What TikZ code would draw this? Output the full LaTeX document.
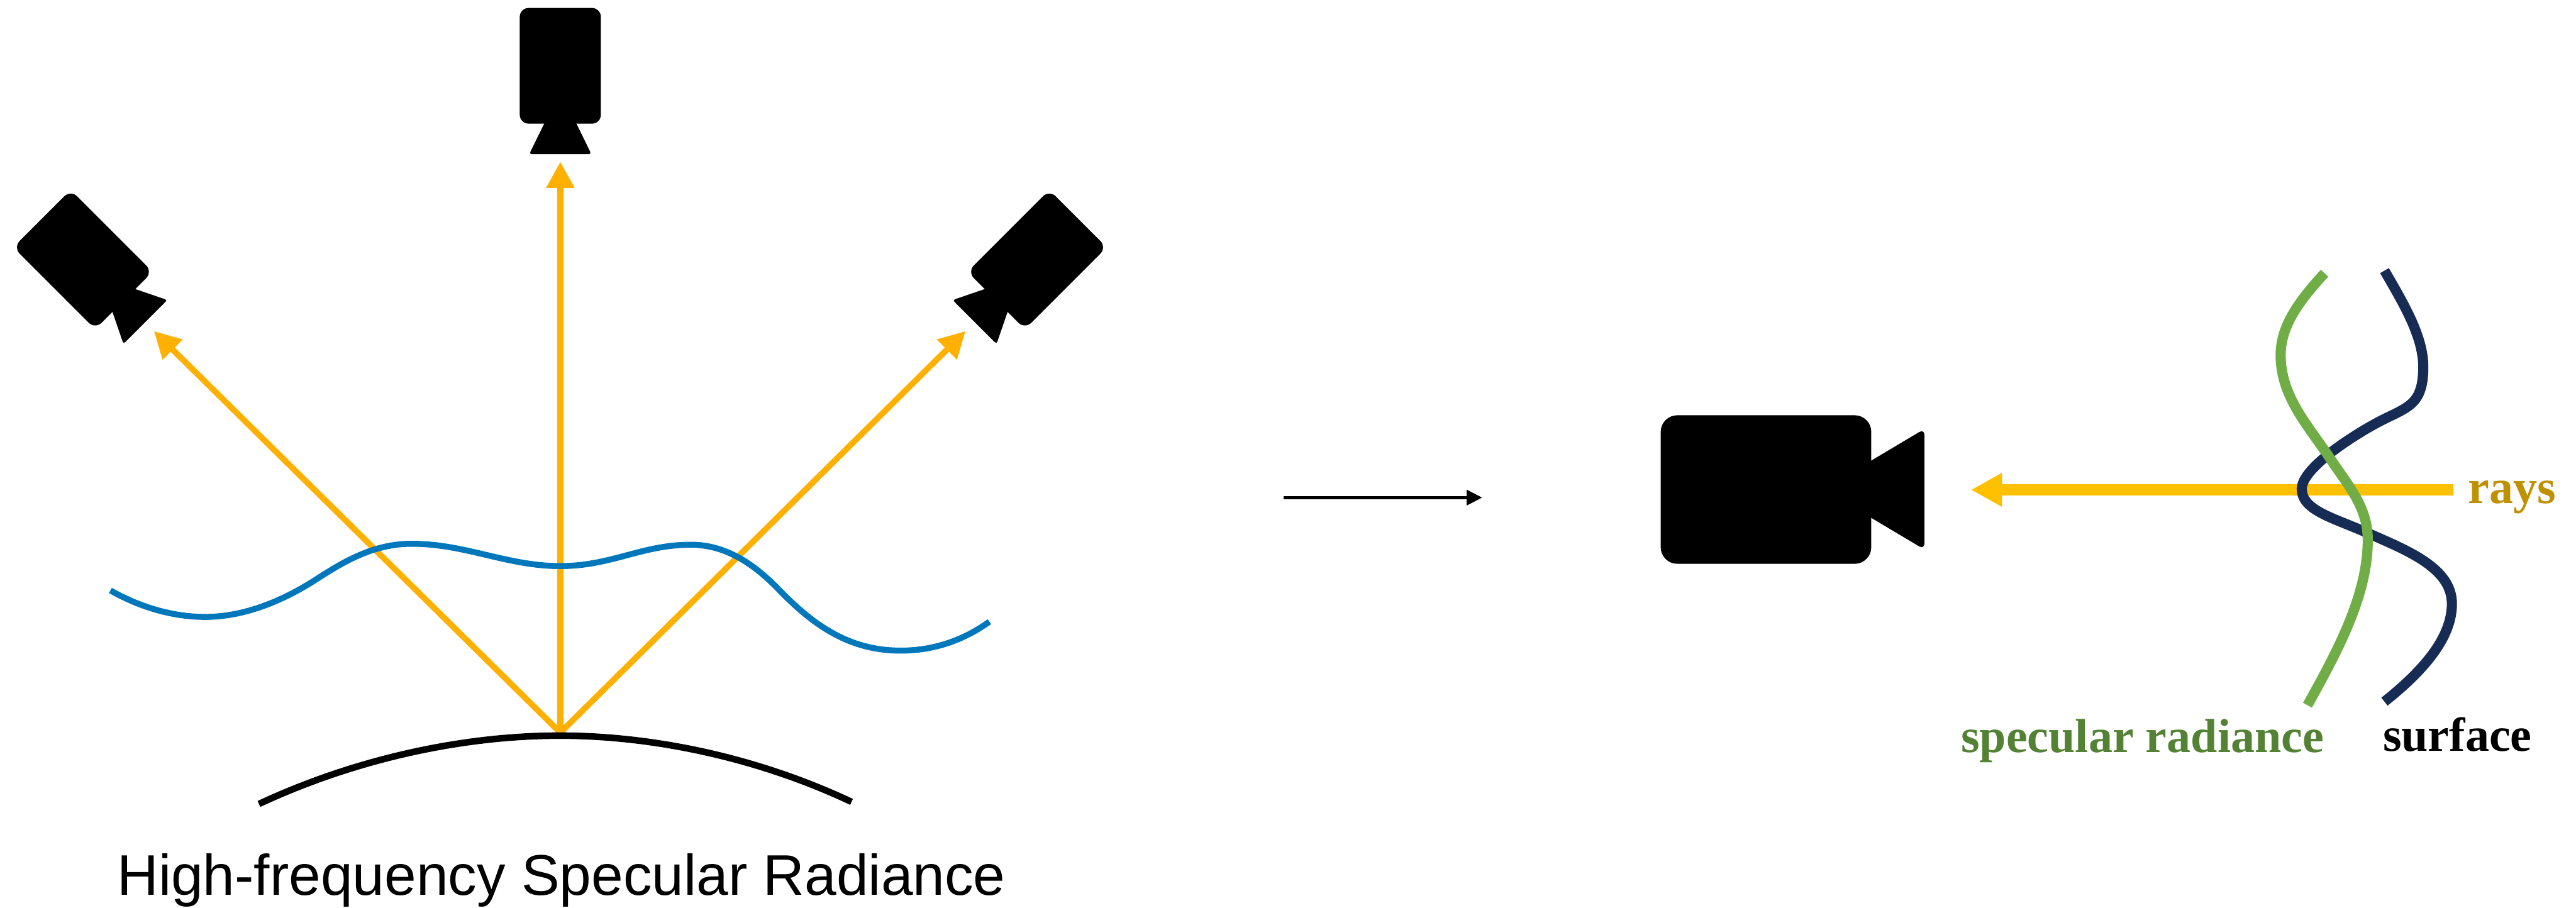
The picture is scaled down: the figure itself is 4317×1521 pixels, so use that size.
\documentclass[tikz,border=0pt]{standalone}
\usepackage{fontspec}
\setmainfont{Liberation Serif}
\newfontfamily\titlefont{Liberation Sans}
\usetikzlibrary{arrows.meta}
\definecolor{rayorange}{HTML}{FFB000}
\definecolor{rayyellow}{HTML}{FFC000}
\definecolor{waveblue}{HTML}{0077BB}
\definecolor{navycurve}{HTML}{172C54}
\definecolor{greencurve}{HTML}{70AD47}
\definecolor{raystext}{HTML}{BF9000}
\definecolor{speculartext}{HTML}{548235}
\tikzset{
  x=0.5pt, y=-0.5pt,
  smallcam/.pic={
    \fill[black, rounded corners=7.5pt] (-68,-97) rectangle (68,97);
    \fill[black, rounded corners=2pt] (-18.7,80) -- (-52,148) -- (52,148) -- (18.7,80) -- cycle;
  },
  rayline/.style={draw=rayorange, line width=5pt, -{Triangle[length=22pt,width=22.5pt]}},
  sidecurve/.style={line width=8.5pt},
  serifbold/.style={anchor=base west, inner sep=0pt, font=\fontsize{40.1}{40}\selectfont\bfseries},
}
\begin{document}
\begin{tikzpicture}
\useasboundingbox (0,0) rectangle (4317,1521);
\fill[white] (0,0) rectangle (4317,1521);

% named points
\coordinate (apex) at (939,1228);
\coordinate (tipL) at (258,555);
\coordinate (tipM) at (939,271);
\coordinate (tipR) at (1618,555);
\coordinate (bigarrowS) at (2151,834);
\coordinate (bigarrowE) at (2484,834);
\coordinate (rayS) at (4111,821);
\coordinate (rayE) at (3303,821);

% left-hand rays
\draw[rayline] (apex) -- (tipL);
\draw[rayline] (apex) -- (tipM);
\draw[rayline] (apex) -- (tipR);

% cameras
\pic at (939,110.3) {smallcam};
\pic[rotate=45] at (139,435) {smallcam};
\pic[rotate=-45] at (1738,435) {smallcam};

% blue wave
\draw[line width=5pt, waveblue] (185,989.6) .. controls (235,1018) and (290,1034) .. (344,1034)
  .. controls (410,1034) and (475,1006.5) .. (530,971)
  .. controls (575,942) and (625,911.4) .. (690,911.4)
  .. controls (780,911.4) and (850,948.8) .. (938.7,948.8)
  .. controls (1025,948.8) and (1075,913) .. (1158,913)
  .. controls (1215,913) and (1262,944) .. (1303,986)
  .. controls (1360,1045) and (1420,1090.5) .. (1509.6,1090.5)
  .. controls (1565,1090.5) and (1615,1073) .. (1658,1042);

% black surface
\draw[line width=5.5pt, black] (434,1347.5) .. controls (600,1270) and (780,1233) .. (938,1233)
  .. controls (1095,1233) and (1270,1270) .. (1427,1344);

\node[anchor=base west, inner sep=0pt, font=\titlefont\fontsize{48}{48}\selectfont] (title) at (196,1500) {High-frequency Specular Radiance};

% centre arrow
\draw[black, line width=2.75pt, -{Triangle[length=13pt,width=12.5pt]}] (bigarrowS) -- (bigarrowE);

% large camera
\fill[black, rounded corners=14pt] (2783,696) rectangle (3136,945);
\fill[black, rounded corners=5pt] (3100,793.5) -- (3225,719) -- (3225,921) -- (3100,846.5) -- cycle;

% ray
\draw[rayyellow, line width=9.5pt, -{Triangle[length=26pt,width=26.5pt]}] (rayS) -- (rayE);

% navy surface
\draw[sidecurve, navycurve] (3996,453.6) .. controls (4030,512) and (4061,565) .. (4061,615)
  .. controls (4061,685) and (4030,682) .. (3975.5,713)
  .. controls (3940,733) and (3857.4,785) .. (3857.4,819.6)
  .. controls (3857.4,855) and (3910,868) .. (3960,890)
  .. controls (4030,921) and (4109,950) .. (4109,1012)
  .. controls (4109,1070) and (4060,1125) .. (3996,1176);

% green radiance
\draw[sidecurve, greencurve] (3895.6,458) .. controls (3855,502) and (3822,545) .. (3822,595)
  .. controls (3822,665) and (3868,713) .. (3904.6,768)
  .. controls (3936,815) and (3968,850) .. (3968,905)
  .. controls (3968,1000) and (3915,1095) .. (3867,1182);

\node[serifbold, text=raystext] (rays) at (4136,844) {rays};
\node[serifbold, text=speculartext] (spec) at (3286,1261) {specular radiance};
\node[serifbold, text=black] (surf) at (3993,1259) {surface};
\end{tikzpicture}
\end{document}
